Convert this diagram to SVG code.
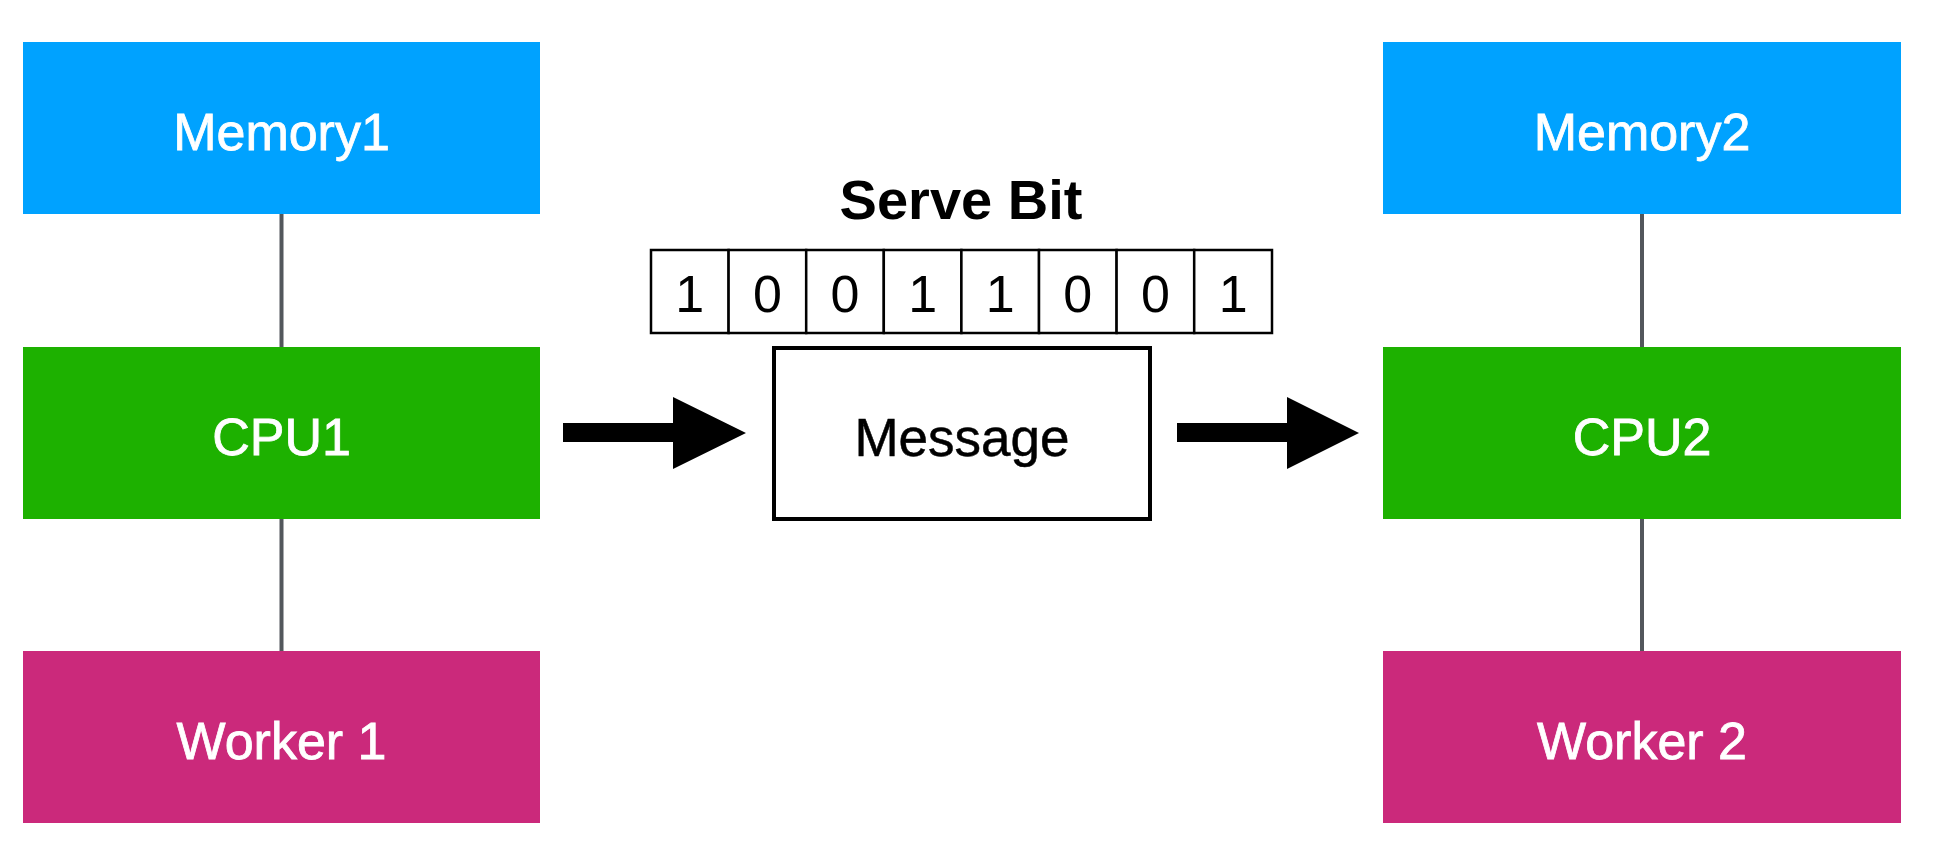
<svg xmlns="http://www.w3.org/2000/svg" width="1949" height="865" viewBox="0 0 1949 865">
  <style>
    .mem { fill: #00A2FF; }
    .cpu { fill: #1DB100; }
    .wrk { fill: #CB297B; }
    .lbl { font-family: "Liberation Sans", Arial, sans-serif; font-size: 52px; fill: #FFFFFF; stroke: #FFFFFF; stroke-width: 0.8; text-anchor: middle; }
    .bit { font-family: "Liberation Sans", Arial, sans-serif; font-size: 52px; fill: #000000; text-anchor: middle; }
    .cell { fill: #FFFFFF; stroke: #000000; stroke-width: 2.5; }
    .link { stroke: #53575C; stroke-width: 4; fill: none; }
    .arrow { fill: #000000; }
  </style>
  <rect width="1949" height="865" fill="#FFFFFF"/>

  <g id="connectors">
    <line class="link" x1="281.5" y1="214" x2="281.5" y2="347"/>
    <line class="link" x1="281.5" y1="519" x2="281.5" y2="652"/>
    <line class="link" x1="1642" y1="214" x2="1642" y2="347"/>
    <line class="link" x1="1642" y1="519" x2="1642" y2="652"/>
    <polygon class="arrow" points="563,423 673,423 673,397 746,433 673,469 673,442 563,442"/>
    <polygon class="arrow" points="1177,423 1287,423 1287,397 1359,433 1287,469 1287,442 1177,442"/>
  </g>

  <g id="memory1">
    <rect class="mem" x="23" y="42" width="517" height="172"/>
    <text class="lbl" x="281.5" y="150">Memory1</text>
  </g>
  <g id="cpu1">
    <rect class="cpu" x="23" y="347" width="517" height="172"/>
    <text class="lbl" x="281.5" y="455">CPU1</text>
  </g>
  <g id="worker1">
    <rect class="wrk" x="23" y="651" width="517" height="172"/>
    <text class="lbl" x="281.5" y="759">Worker 1</text>
  </g>

  <g id="memory2">
    <rect class="mem" x="1383" y="42" width="518" height="172"/>
    <text class="lbl" x="1642" y="150">Memory2</text>
  </g>
  <g id="cpu2">
    <rect class="cpu" x="1383" y="347" width="518" height="172"/>
    <text class="lbl" x="1642" y="455">CPU2</text>
  </g>
  <g id="worker2">
    <rect class="wrk" x="1383" y="651" width="518" height="172"/>
    <text class="lbl" x="1642" y="759">Worker 2</text>
  </g>

  <g id="serve-bit">
    <text x="961" y="219" font-family="'Liberation Sans', Arial, sans-serif" font-size="56" font-weight="bold" fill="#000000" text-anchor="middle">Serve Bit</text>
    <rect class="cell" x="651" y="250" width="77.6" height="83"/>
    <rect class="cell" x="728.6" y="250" width="77.6" height="83"/>
    <rect class="cell" x="806.2" y="250" width="77.6" height="83"/>
    <rect class="cell" x="883.8" y="250" width="77.6" height="83"/>
    <rect class="cell" x="961.4" y="250" width="77.6" height="83"/>
    <rect class="cell" x="1039" y="250" width="77.6" height="83"/>
    <rect class="cell" x="1116.6" y="250" width="77.6" height="83"/>
    <rect class="cell" x="1194.2" y="250" width="77.8" height="83"/>
    <text class="bit" x="689.8" y="312">1</text>
    <text class="bit" x="767.4" y="312">0</text>
    <text class="bit" x="845" y="312">0</text>
    <text class="bit" x="922.6" y="312">1</text>
    <text class="bit" x="1000.2" y="312">1</text>
    <text class="bit" x="1077.8" y="312">0</text>
    <text class="bit" x="1155.4" y="312">0</text>
    <text class="bit" x="1233.1" y="312">1</text>
  </g>

  <g id="message">
    <rect x="774" y="348" width="376" height="171" fill="#FFFFFF" stroke="#000000" stroke-width="4"/>
    <text x="962" y="456" font-family="'Liberation Sans', Arial, sans-serif" font-size="53" fill="#000000" stroke="#000000" stroke-width="0.5" text-anchor="middle">Message</text>
  </g>
</svg>
